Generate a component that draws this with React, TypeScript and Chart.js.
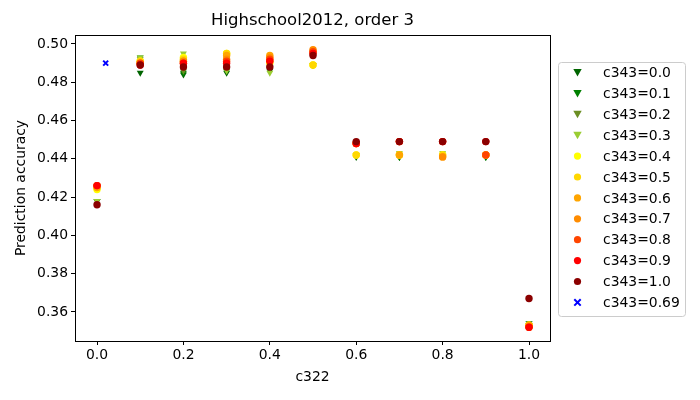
import React, { useEffect, useRef } from "react";
import { Chart, registerables } from "chart.js";
Chart.register(...registerables);

const xCats = [0.0, 0.1, 0.2, 0.3, 0.4, 0.5, 0.6, 0.7, 0.8, 0.9, 1.0];
const seriesNames = ["c343=0.0", "c343=0.1", "c343=0.2", "c343=0.3", "c343=0.4", "c343=0.5", "c343=0.6", "c343=0.7", "c343=0.8", "c343=0.9", "c343=1.0"];
const seriesColors = ["#006400", "#008000", "#6b8e23", "#9acd32", "#ffff00", "#ffd700", "#ffa500", "#ff8c00", "#ff4500", "#ff0000", "#8b0000"];
const s00 = [0.418, 0.485, 0.484, 0.485, 0.486, 0.489, 0.441, 0.441, 0.442, 0.441, 0.354];
const s01 = [0.418, 0.493, 0.485, 0.486, 0.487, 0.489, 0.442, 0.441, 0.442, 0.441, 0.354];
const s02 = [0.418, 0.492, 0.486, 0.487, 0.487, 0.489, 0.442, 0.442, 0.442, 0.442, 0.353];
const s03 = [0.418, 0.493, 0.495, 0.486, 0.485, 0.489, 0.442, 0.443, 0.443, 0.442, 0.353];
const s04 = [0.424, 0.491, 0.493, 0.495, 0.490, 0.489, 0.442, 0.442, 0.442, 0.442, 0.353];
const s05 = [0.425, 0.491, 0.492, 0.495, 0.491, 0.489, 0.442, 0.442, 0.442, 0.442, 0.353];
const s06 = [0.425, 0.490, 0.491, 0.494, 0.494, 0.496, 0.448, 0.442, 0.441, 0.442, 0.353];
const s07 = [0.426, 0.490, 0.491, 0.492, 0.493, 0.497, 0.448, 0.449, 0.441, 0.442, 0.352];
const s08 = [0.426, 0.490, 0.490, 0.491, 0.492, 0.496, 0.448, 0.449, 0.449, 0.442, 0.352];
const s09 = [0.426, 0.489, 0.490, 0.490, 0.491, 0.495, 0.448, 0.449, 0.449, 0.449, 0.352];
const s10 = [0.416, 0.489, 0.488, 0.488, 0.488, 0.494, 0.449, 0.449, 0.449, 0.449, 0.367];
const seriesValues = [s00, s01, s02, s03, s04, s05, s06, s07, s08, s09, s10];
const specialName = "c343=0.69";
const specialX = [0.02];
const specialY = [0.49];
const xTicks = [0.0, 0.2, 0.4, 0.6, 0.8, 1.0];
const yTicks = [0.36, 0.38, 0.40, 0.42, 0.44, 0.46, 0.48, 0.50];
const titleText = "Highschool2012, order 3";
const xLabel = "c322";
const yLabel = "Prediction accuracy";

const FONT = "'DejaVu Sans', sans-serif";

export default function App() {
  const ref = useRef<HTMLCanvasElement>(null);
  useEffect(() => {
    const datasets: any[] = seriesValues.map((vals, i) => ({
      label: seriesNames[i],
      data: vals.map((v, j) => ({ x: xCats[j], y: v })),
      backgroundColor: seriesColors[i],
      borderColor: seriesColors[i],
      borderWidth: 0,
      pointStyle: i < 4 ? "triangle" : "circle",
      rotation: i < 4 ? 180 : 0,
      pointRadius: i < 4 ? 4 : 3.7,
      order: 20 - i,
    }));
    datasets.push({
      label: specialName,
      data: specialX.map((x, j) => ({ x, y: specialY[j] })),
      backgroundColor: "#0000ff",
      borderColor: "#0000ff",
      borderWidth: 2,
      pointStyle: "crossRot",
      pointRadius: 3.5,
      order: 0,
    });

    const decor = {
      id: "decor",
      afterDraw(chart: any) {
        const ctx = chart.ctx;
        const a = chart.chartArea;
        ctx.save();
        ctx.strokeStyle = "#000";
        ctx.lineWidth = 1;
        ctx.strokeRect(Math.round(a.left) + 0.5, Math.round(a.top) + 0.5, Math.round(a.right - a.left), Math.round(a.bottom - a.top));
        ctx.fillStyle = "#000";
        ctx.textAlign = "center";
        ctx.textBaseline = "middle";
        ctx.font = `16.5px ${FONT}`;
        ctx.fillText(titleText, (a.left + a.right) / 2, 21);
        ctx.font = `13.9px ${FONT}`;
        ctx.fillText(xLabel, (a.left + a.right) / 2, 377);
        ctx.save();
        ctx.translate(21, (a.top + a.bottom) / 2);
        ctx.rotate(-Math.PI / 2);
        ctx.fillText(yLabel, 0, 0);
        ctx.restore();
        // legend
        const lx = 558, ly = 62, lw = 127, lh = 254;
        ctx.fillStyle = "rgba(255,255,255,0.8)";
        ctx.strokeStyle = "#cccccc";
        ctx.beginPath();
        (ctx as any).roundRect(lx + 0.5, ly + 0.5, lw, lh, 3);
        ctx.fill();
        ctx.stroke();
        const names = [...seriesNames, specialName];
        const cols = [...seriesColors, "#0000ff"];
        ctx.textAlign = "left";
        ctx.font = `13.9px ${FONT}`;
        names.forEach((n, i) => {
          const y = 72.5 + i * 20.9;
          const mx = 577.5;
          ctx.fillStyle = cols[i];
          ctx.strokeStyle = cols[i];
          if (i < 4) {
            ctx.beginPath();
            ctx.moveTo(mx - 4.2, y - 3.5);
            ctx.lineTo(mx + 4.2, y - 3.5);
            ctx.lineTo(mx, y + 4);
            ctx.closePath();
            ctx.fill();
          } else if (i < 11) {
            ctx.beginPath();
            ctx.arc(mx, y, 3.6, 0, Math.PI * 2);
            ctx.fill();
          } else {
            ctx.lineWidth = 2;
            ctx.beginPath();
            ctx.moveTo(mx - 3.2, y - 3.2);
            ctx.lineTo(mx + 3.2, y + 3.2);
            ctx.moveTo(mx + 3.2, y - 3.2);
            ctx.lineTo(mx - 3.2, y + 3.2);
            ctx.stroke();
          }
          ctx.fillStyle = "#000";
          ctx.fillText(n, 603, y + 1);
        });
        ctx.restore();
      },
    };

    const chart = new Chart(ref.current!, {
      type: "scatter",
      data: { datasets },
      options: {
        animation: false,
        responsive: false,
        devicePixelRatio: 1,
        layout: { padding: { top: 35, right: 150, left: 0, bottom: 0 } },
        plugins: { legend: { display: false }, tooltip: { enabled: false }, title: { display: false } },
        scales: {
          x: {
            type: "linear",
            min: -0.051,
            max: 1.0486,
            afterFit: (s: any) => { s.height = 59; },
            afterBuildTicks: (s: any) => { s.ticks = xTicks.map((v) => ({ value: v })); },
            ticks: {
              color: "#000",
              font: { family: FONT, size: 13.9 },
              padding: 2,
              maxRotation: 0,
              callback: (v: any) => Number(v).toFixed(1),
            },
            grid: { drawOnChartArea: false, drawTicks: true, tickLength: 4, color: "#000" },
            border: { color: "#000" },
          },
          y: {
            type: "linear",
            min: 0.3448,
            max: 0.5047,
            afterFit: (s: any) => { s.width = 75; },
            afterBuildTicks: (s: any) => { s.ticks = yTicks.map((v) => ({ value: v })); },
            ticks: {
              color: "#000",
              font: { family: FONT, size: 13.9 },
              padding: 3,
              callback: (v: any) => Number(v).toFixed(2),
            },
            grid: { drawOnChartArea: false, drawTicks: true, tickLength: 4, color: "#000" },
            border: { color: "#000" },
          },
        },
      },
      plugins: [decor],
    });
    return () => chart.destroy();
  }, []);
  return (
    <div style={{ position: "fixed", left: 0, top: 0, width: 700, height: 400, background: "#fff" }}>
      <canvas ref={ref} width={700} height={400} />
    </div>
  );
}
